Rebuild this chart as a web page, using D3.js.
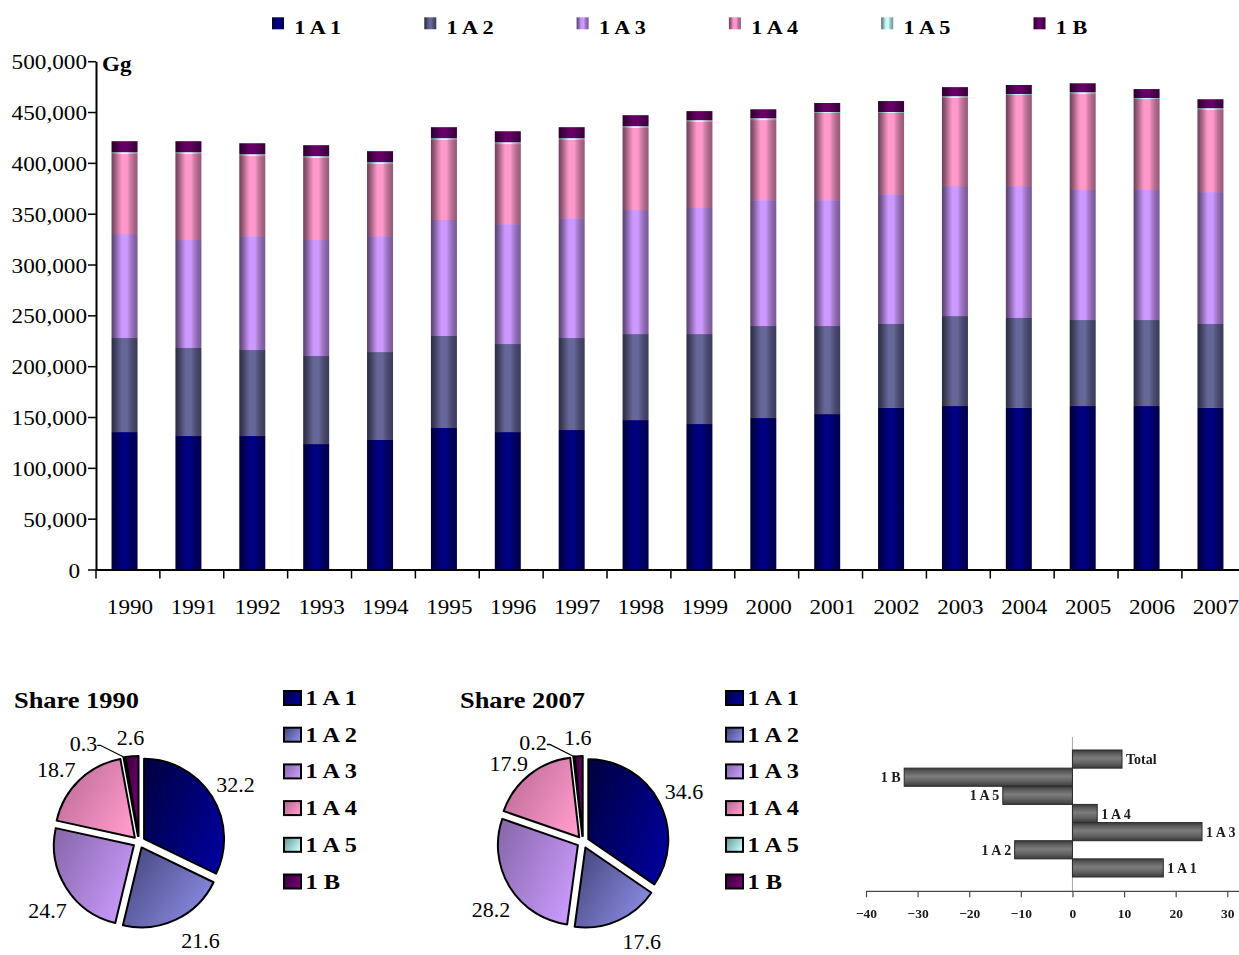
<!DOCTYPE html>
<html>
<head>
<meta charset="utf-8">
<script src="https://cdn.jsdelivr.net/npm/d3@7"></script>
<style>
  body { margin: 0; background: #fff; }
  svg { display: block; }
</style>
</head>
<body>
<svg id="chart" width="1239" height="955"></svg>
<script>
// ---- data -------------------------------------------------------------
const years = [1990, 1991, 1992, 1993, 1994, 1995, 1996, 1997, 1998, 1999,
               2000, 2001, 2002, 2003, 2004, 2005, 2006, 2007];
const sectors = ["1 A 1", "1 A 2", "1 A 3", "1 A 4", "1 A 5", "1 B"];

// emissions by sector, Gg
const energyIndustries = [135200, 131300, 131300, 123400, 127400, 139200, 135200, 137200, 147000,
                          143100, 149000, 152900, 158900, 160800, 158900, 160800, 160800, 158900];
const manufacturing    = [92500, 86600, 84600, 86600, 86500, 90500, 86600, 90500, 84600,
                          88500, 90500, 86600, 82600, 88500, 88500, 84600, 84600, 82600];
const transport        = [102300, 106200, 112100, 114100, 114100, 114100, 118000, 118000, 122000,
                          124000, 123900, 123900, 127800, 127900, 129800, 127900, 127900, 129800];
const otherSectors     = [78700, 84600, 78700, 80700, 70900, 78700, 78700, 76800, 80700,
                          84600, 78700, 85800, 79900, 86600, 89700, 94400, 89700, 80700];
const otherFuelUse     = [1800, 1800, 1800, 1800, 1800, 1800, 1800, 1800, 1800,
                          1800, 1800, 800, 800, 1800, 800, 1800, 800, 1800];
const fugitive         = [10800, 10800, 10800, 10800, 10800, 10800, 10800, 10800, 10800,
                          8900, 8800, 8900, 10800, 8900, 8900, 8800, 8800, 8800];
const yTicks = [0, 50000, 100000, 150000, 200000, 250000, 300000, 350000, 400000, 450000, 500000];

// shares in %
const share1990 = [32.2, 21.6, 24.7, 18.7, 0.3, 2.6];
const share2007 = [34.6, 17.6, 28.2, 17.9, 0.2, 1.6];

// change 1990-2007, %
const changeLabels = ["Total", "1 B", "1 A 5", "1 A 4", "1 A 3", "1 A 2", "1 A 1"];
const changeValues = [9.6, -32.6, -13.5, 4.8, 25.1, -11.2, 17.6];
const changeTicks = [-40, -30, -20, -10, 0, 10, 20, 30];

// ---- setup ------------------------------------------------------------
const SERIF = "'Liberation Serif', 'Times New Roman', Times, serif";
const svg = d3.select("#chart");
const defs = svg.append("defs");

const baseColors = ["#000080", "#666699", "#cc99ff", "#ff99cc", "#ccffff", "#660066"];
const pieLight = ["#00009c", "#8e8ee8", "#cc9cff", "#ff9ccc", "#ccffff", "#780078"];
const pieDark  = ["#000046", "#484880", "#8a6aae", "#bc6a96", "#6a9c9c", "#3a003a"];

function tone(c, f) {
  const r = d3.rgb(c);
  return d3.rgb(Math.min(255, r.r * f), Math.min(255, r.g * f), Math.min(255, r.b * f)).formatHex();
}
// horizontally widen text to the wide Times look of the chart
function widen(sel, k) {
  sel.each(function () {
    const w = this.getComputedTextLength();
    this.setAttribute("textLength", (w * k).toFixed(1));
    this.setAttribute("lengthAdjust", "spacingAndGlyphs");
  });
}

// cylinder-like column shading
const barStops = [[0, .42], [.1, .55], [.2, .7], [.3, .86], [.4, 1], [.6, 1], [.7, .84], [.85, .68], [1, .58]];
baseColors.forEach((c, i) => {
  const g = defs.append("linearGradient").attr("id", "bar" + i)
    .attr("x1", 0).attr("x2", 1).attr("y1", 0).attr("y2", 0);
  barStops.forEach(([o, f]) => g.append("stop").attr("offset", o).attr("stop-color", tone(c, f)));
  const p = defs.append("linearGradient").attr("id", "pie" + i)
    .attr("x1", 0).attr("x2", 1).attr("y1", 0.2).attr("y2", 0.8);
  p.append("stop").attr("offset", 0).attr("stop-color", pieDark[i]);
  p.append("stop").attr("offset", 1).attr("stop-color", pieLight[i]);
});
const hb = defs.append("linearGradient").attr("id", "hbar")
  .attr("x1", 0).attr("x2", 0).attr("y1", 0).attr("y2", 1);
[[0, "#383838"], [0.18, "#5a5a5a"], [0.45, "#7c7c7c"], [0.72, "#626262"], [1, "#3a3a3a"]]
  .forEach(([o, c]) => hb.append("stop").attr("offset", o).attr("stop-color", c));
defs.append("filter").attr("id", "soft")
  .append("feGaussianBlur").attr("stdDeviation", 0.5);

// ---- stacked columns --------------------------------------------------
const series = [energyIndustries, manufacturing, transport, otherSectors, otherFuelUse, fugitive];
const rows = years.map((yr, i) => {
  const r = { year: yr };
  series.forEach((s, k) => r["s" + k] = s[i]);
  return r;
});
const keys = series.map((_, k) => "s" + k);
const stacked = d3.stack().keys(keys)(rows);

const x = d3.scaleBand().domain(years).range([96, 1245.8]);
const y = d3.scaleLinear().domain([0, 500000]).range([569.5, 61.2]);
const barW = 26, barShift = -3.4;

const gBars = svg.append("g");
stacked.forEach((layer, k) => {
  gBars.selectAll(null).data(layer).join("rect")
    .attr("x", d => x(d.data.year) + x.bandwidth() / 2 + barShift - barW / 2)
    .attr("y", d => y(d[1]))
    .attr("width", barW)
    .attr("height", d => Math.max(0, y(d[0]) - y(d[1])))
    .attr("fill", `url(#bar${k})`);
});

// y axis
const yAxis = svg.append("g").attr("transform", "translate(96,0)")
  .call(d3.axisLeft(y).tickValues(yTicks).tickFormat(d3.format(","))
    .tickSize(8).tickSizeOuter(0).tickPadding(1));
yAxis.select(".domain").attr("stroke", "#000").attr("stroke-width", 2);
yAxis.selectAll(".tick line").attr("stroke", "#000").attr("stroke-width", 1.5);
yAxis.selectAll(".tick text")
  .attr("font-family", SERIF).attr("font-size", 20).attr("fill", "#000").attr("dy", "0.38em");
yAxis.selectAll(".tick text").filter(d => d === 0).attr("x", -16);
widen(yAxis.selectAll(".tick text"), 1.16);

// x axis
const xAxis = svg.append("g").attr("transform", `translate(0,${y(0)})`)
  .call(d3.axisBottom(x).tickSize(0).tickSizeOuter(0).tickPadding(30));
xAxis.select(".domain").attr("stroke", "#000").attr("stroke-width", 2);
xAxis.selectAll(".tick text")
  .attr("font-family", SERIF).attr("font-size", 21).attr("fill", "#000")
  .attr("x", 2).attr("dy", "0.71em");
widen(xAxis.selectAll(".tick text"), 1.1);
xAxis.selectAll("line.sep").data(years.map(d => x(d)).concat([x.range()[1]])).join("line")
  .attr("class", "sep").attr("x1", d => d).attr("x2", d => d)
  .attr("y1", 0).attr("y2", 9).attr("stroke", "#000").attr("stroke-width", 1.5);

// unit
const unit = svg.append("text").attr("x", 102).attr("y", 71)
  .attr("font-family", SERIF).attr("font-weight", "bold").attr("font-size", 20).text("Gg");
widen(unit, 1.15);

// legend across the top
const topLeg = svg.append("g").selectAll("g").data(sectors).join("g")
  .attr("transform", (d, i) => `translate(${272 + i * 152.3},17.3)`);
topLeg.append("rect").attr("width", 12).attr("height", 12)
  .attr("fill", (d, i) => `url(#bar${i})`);
const topLegText = topLeg.append("text").attr("x", 22.3).attr("y", 17.2)
  .attr("font-family", SERIF).attr("font-weight", "bold").attr("font-size", 19)
  .text(d => d);
widen(topLegText, 1.17);

// ---- pies ---------------------------------------------------------------
const R = 80, EXPLODE = 6;
const labelNudge = [[-2, 4], [14, -2], [7, 7], [-3, 10], [0, 0], [0, 0]];
function drawPie(shares, cx, cy, title, titleX, legendX) {
  const g = svg.append("g");
  const t = g.append("text").attr("x", titleX).attr("y", 708)
    .attr("font-family", SERIF).attr("font-weight", "bold").attr("font-size", 24).text(title);
  widen(t, 1.1);

  const arcs = d3.pie().sort(null).value(d => d)(shares);
  const arc = d3.arc().innerRadius(0).outerRadius(R);
  arcs.forEach((a, i) => {
    const mid = (a.startAngle + a.endAngle) / 2;
    const ox = Math.sin(mid) * EXPLODE, oy = -Math.cos(mid) * EXPLODE;
    g.append("path").attr("d", arc(a))
      .attr("transform", `translate(${cx + ox},${cy + oy})`)
      .attr("fill", `url(#pie${i})`).attr("stroke", "#000").attr("stroke-width", 2)
      .attr("stroke-linejoin", "round");

    const lbl = g.append("text").attr("font-family", SERIF).attr("font-size", 22)
      .attr("fill", "#000").text(d3.format(".1f")(a.data));
    if (i === 4) {
      // tiny slice: label pulled aside with a leader line
      const px = cx + Math.sin(mid) * (R + EXPLODE), py = cy - Math.cos(mid) * (R + EXPLODE);
      g.append("path").attr("d", `M${px},${py}L${px - 24},${py - 12}L${px - 27},${py - 12}`)
        .attr("fill", "none").attr("stroke", "#000").attr("stroke-width", 1.3);
      lbl.attr("text-anchor", "end").attr("x", px - 27).attr("y", py - 6);
    } else {
      const w = lbl.node().getComputedTextLength(), h = 15;
      const sx = Math.sin(mid), sy = -Math.cos(mid);
      const half = Math.abs(sx) * w / 2 + Math.abs(sy) * h / 2;
      const dist = R + EXPLODE + 10 + half;
      lbl.attr("text-anchor", "middle")
        .attr("x", cx + sx * dist + labelNudge[i][0])
        .attr("y", cy + sy * dist + h / 2 + labelNudge[i][1]);
    }
  });

  const leg = g.selectAll("g.leg").data(sectors).join("g").attr("class", "leg")
    .attr("transform", (d, i) => `translate(${legendX},${698 + i * 36.7})`);
  leg.append("rect").attr("x", 0).attr("y", -7).attr("width", 17).attr("height", 14)
    .attr("fill", (d, i) => `url(#pie${i})`).attr("stroke", "#000").attr("stroke-width", 2);
  const lt = leg.append("text").attr("x", 21.5).attr("y", 7)
    .attr("font-family", SERIF).attr("font-weight", "bold").attr("font-size", 20).text(d => d);
  widen(lt, 1.22);
}
drawPie(share1990, 139, 842, "Share 1990", 14, 284);
drawPie(share2007, 583, 842, "Share 2007", 460, 726);

// ---- change 1990-2007 -------------------------------------------------
const hp = svg.append("g").attr("filter", "url(#soft)");
const hx = d3.scaleLinear().domain([-40, 30]).range([866, 1227.3]);
const hy = d3.scaleBand().domain(changeLabels).range([750, 877]);
const axisY = 891.3;

hp.append("line").attr("x1", hx(0)).attr("x2", hx(0)).attr("y1", 737).attr("y2", axisY)
  .attr("stroke", "#a8a8a8").attr("stroke-width", 1);
hp.selectAll("rect").data(changeValues).join("rect")
  .attr("x", d => hx(Math.min(0, d)))
  .attr("y", (d, i) => hy(changeLabels[i]))
  .attr("width", d => Math.abs(hx(d) - hx(0)))
  .attr("height", hy.bandwidth())
  .attr("fill", "url(#hbar)").attr("stroke", "#2a2a2a").attr("stroke-width", 1);
hp.selectAll("text.cat").data(changeValues).join("text").attr("class", "cat")
  .attr("x", d => d >= 0 ? hx(d) + 4 : hx(d) - 3.5)
  .attr("y", (d, i) => hy(changeLabels[i]) + hy.bandwidth() / 2 + 5)
  .attr("text-anchor", d => d >= 0 ? "start" : "end")
  .attr("font-family", SERIF).attr("font-weight", "bold").attr("font-size", 14)
  .attr("fill", "#1a1a1a")
  .text((d, i) => changeLabels[i]);

const hAxis = hp.append("g").attr("transform", `translate(0,${axisY})`)
  .call(d3.axisBottom(hx).tickValues(changeTicks).tickFormat(d3.format("d"))
    .tickSize(6).tickSizeOuter(0).tickPadding(11));
hAxis.select(".domain").attr("stroke", "#4a4a4a").attr("stroke-width", 1.2)
  .attr("d", `M${hx(-40)},0H1239`);
hAxis.selectAll(".tick line").attr("stroke", "#4a4a4a").attr("stroke-width", 1.2);
hAxis.selectAll(".tick text").attr("font-family", SERIF).attr("font-weight", "bold")
  .attr("font-size", 13.5).attr("fill", "#1a1a1a");
</script>
</body>
</html>
